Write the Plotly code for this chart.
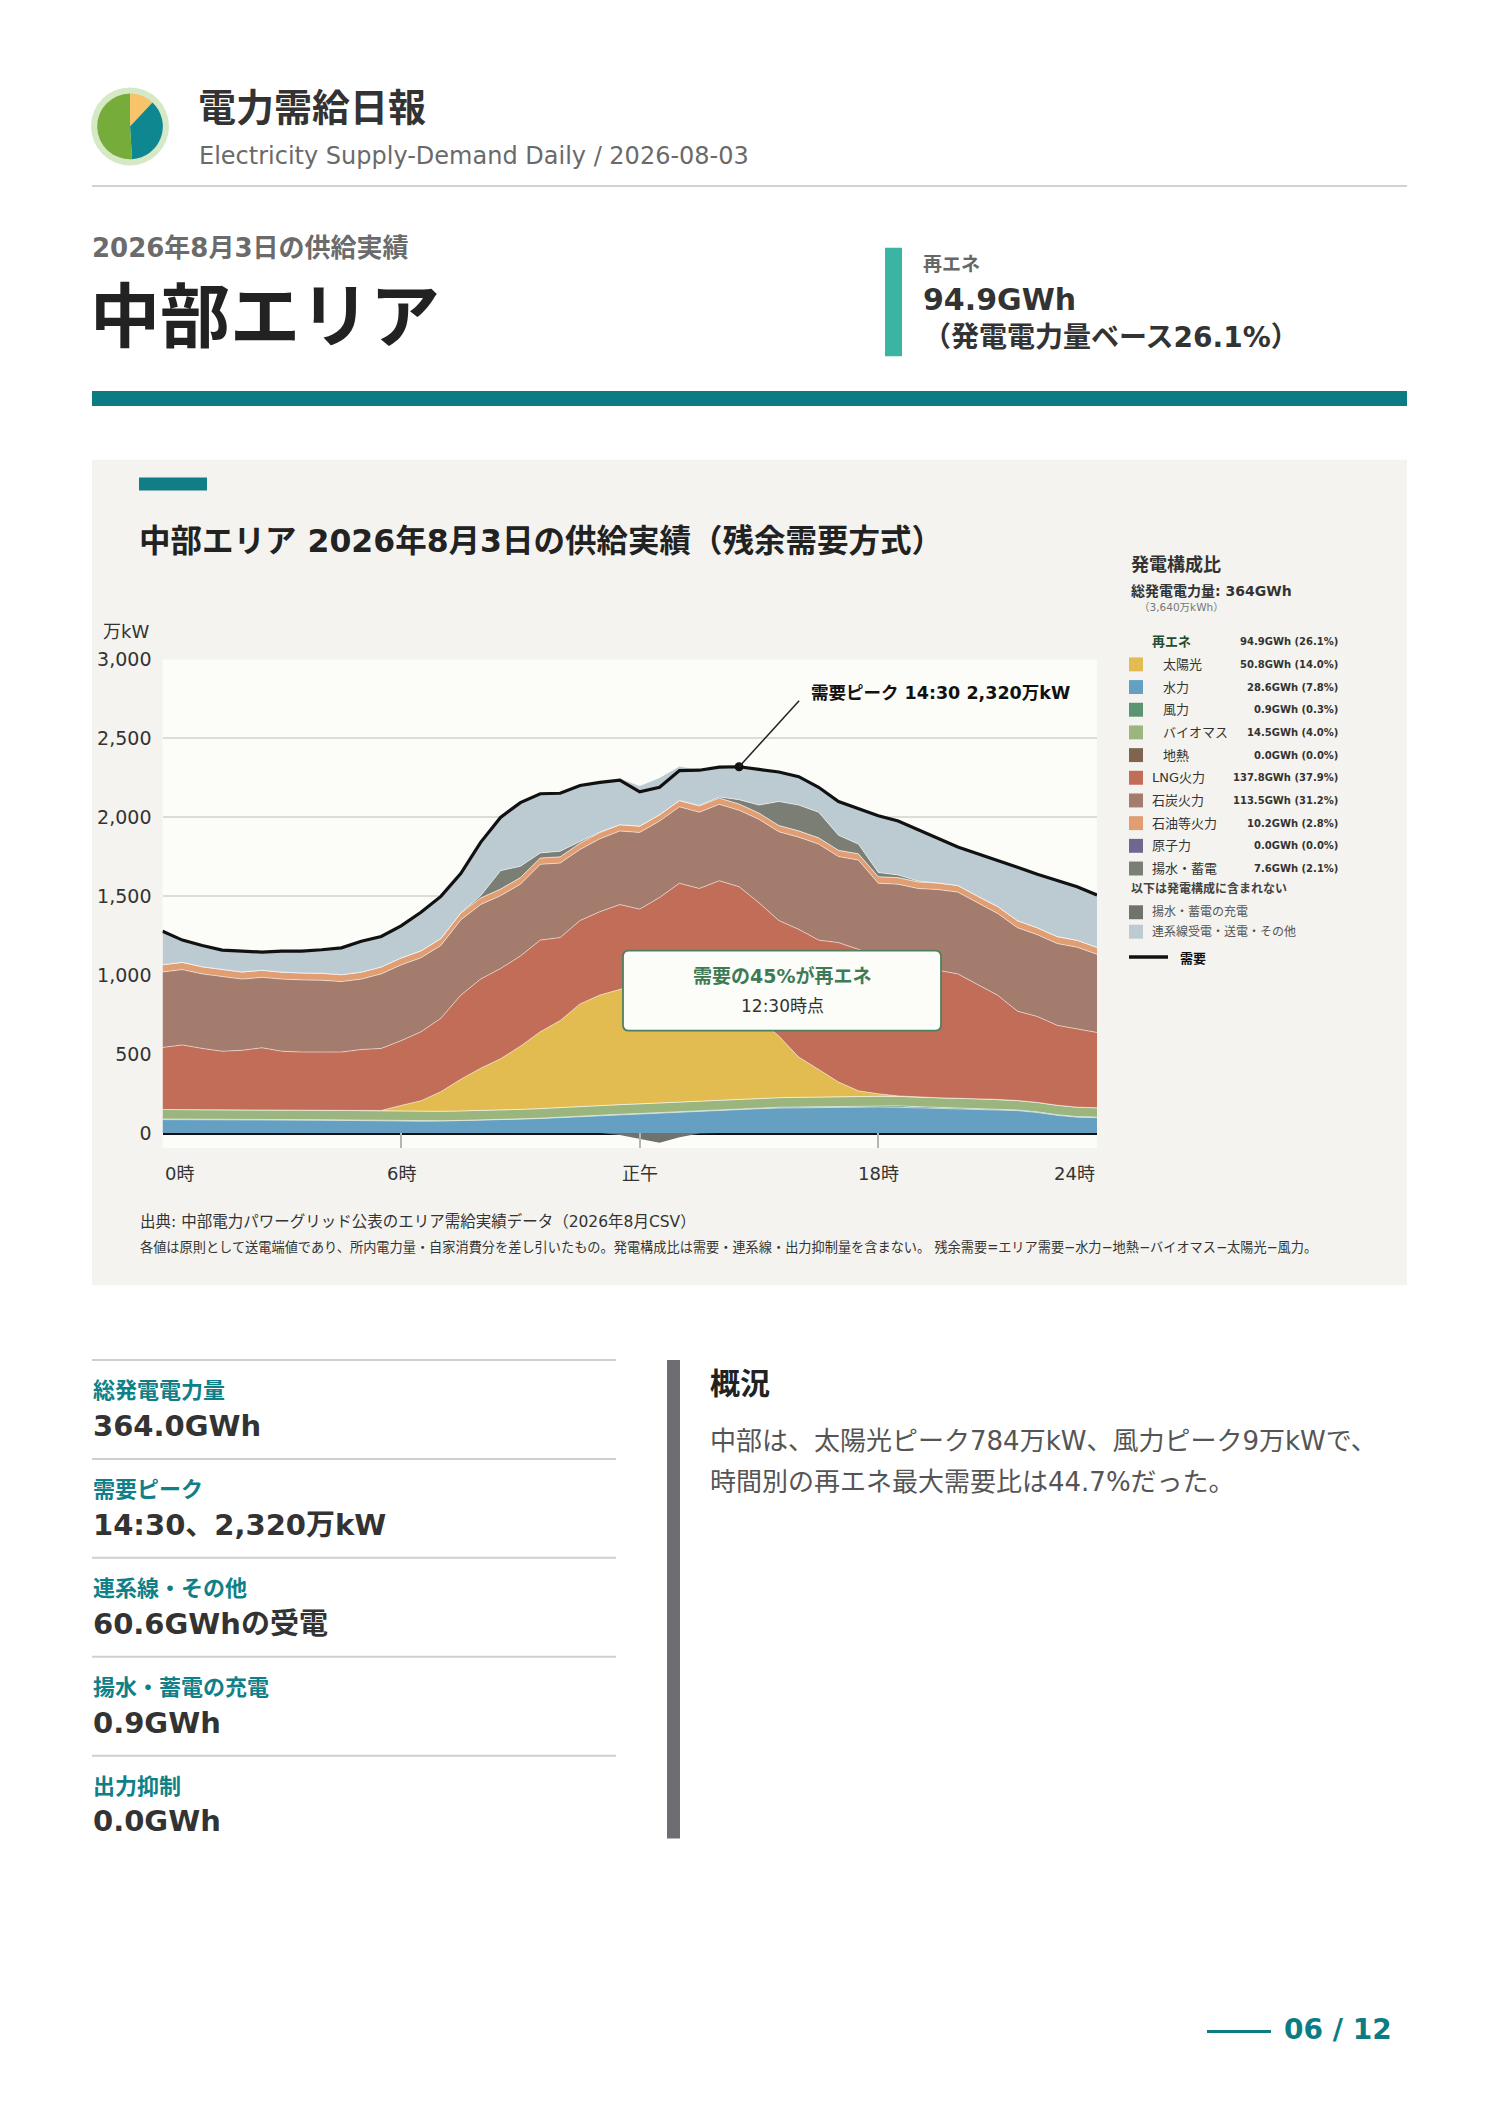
import plotly.graph_objects as go

W_PAGE, H_PAGE = 1488, 2105
FONT = "DejaVu Sans, Noto Sans CJK JP"

# ---- 30-minute data, 0:00 .. 23:30 (万kW) ----
hours = [i * 0.5 for i in range(48)]
time_labels = [f"{int(h):d}:{'30' if h % 1 else '00'}" for h in hours]

demand = [1278, 1222, 1188, 1159, 1152, 1146, 1152, 1152, 1161, 1173,
          1215, 1245, 1312, 1398, 1499, 1643, 1841, 1999, 2093, 2149,
          2152, 2201, 2221, 2235, 2161, 2190, 2296, 2298, 2318, 2320,
          2303, 2287, 2257, 2190, 2100, 2055, 2010, 1976, 1920, 1864,
          1812, 1769, 1729, 1684, 1639, 1598, 1560, 1508]
hydro = [85, 85, 84, 84, 83, 83, 82, 82, 81, 80, 78, 76, 75, 75, 76, 78,
         80, 84, 88, 92, 98, 104, 110, 116, 120, 126, 132, 138, 144, 150, 154, 158,
         160, 162, 164, 165, 165, 163, 160, 158, 155, 152, 148, 142, 130, 112, 100, 97]
wind = [4, 4, 4, 3, 3, 3, 3, 3, 3, 3, 3, 2, 2, 2, 2, 2,
        2, 2, 2, 2, 3, 3, 3, 3, 4, 4, 4, 4, 5, 5, 5, 5,
        5, 5, 6, 6, 8, 9, 7, 5, 5, 5, 5, 4, 4, 4, 4, 4]
biomass = [60, 60, 60, 60, 60, 60, 60, 60, 60, 60, 60, 60, 60, 60, 60, 60,
           60, 60, 60, 61, 61, 61, 61, 61, 61, 61, 61, 61, 61, 61, 61, 61,
           61, 61, 61, 61, 60, 60, 60, 60, 60, 60, 60, 60, 60, 60, 60, 59]
geothermal = [0] * 48
solar = [0, 0, 0, 0, 0, 0, 0, 0, 0, 0, 0, 5, 38, 67, 124, 200,
         268, 324, 400, 486, 550, 650, 700, 730, 760, 784, 770, 740, 680, 600, 500, 390,
         255, 175, 92, 35, 15, 3, 0, 0, 0, 0, 0, 0, 0, 0, 0, 0]
lng = [393, 409, 388, 371, 378, 394, 373, 368, 369, 370, 388, 393, 410, 437, 465, 533,
       565, 572, 571, 581, 526, 528, 528, 537, 473, 517, 615, 606, 708, 744, 738, 732,
       809, 819, 883, 899, 873, 863, 838, 808, 788, 724, 660, 566, 544, 506, 495, 477]
coal = [478, 477, 472, 472, 451, 446, 457, 457, 455, 446, 446, 472, 480, 469, 461, 477,
        472, 461, 455, 480, 472, 450, 462, 466, 486, 484, 484, 483, 484, 484, 529, 562,
        584, 608, 545, 563, 461, 478, 484, 511, 518, 517, 518, 529, 518, 518, 518, 495]
oil = [46, 46, 45, 45, 45, 45, 44, 44, 44, 44, 44, 44, 44, 44, 44, 44,
       42, 42, 42, 40, 40, 40, 40, 40, 40, 40, 40, 40, 40, 40, 40, 40,
       40, 40, 40, 40, 42, 42, 42, 42, 42, 42, 44, 44, 44, 44, 44, 44]
nuclear = [0] * 48
pumped = [0, 0, 0, 0, 0, 0, 0, 0, 0, 0, 0, 0, 0, 0, 0, 0,
          14, 117, 71, 32, 35, 10, 3, 0, 0, 0, 0, 3, 7, 27, 50, 152,
          163, 162, 95, 61, 26, 16, 5, 0, 0, 0, 0, 0, 0, 0, 0, 0]
interconnect = [212, 141, 135, 124, 132, 115, 133, 138, 149, 170, 196, 193, 203, 244, 267, 249,
                338, 337, 404, 375, 367, 355, 314, 294, 255, 235, 217, 226, 189, 209, 226, 187,
                180, 158, 214, 225, 360, 342, 324, 280, 244, 269, 294, 339, 339, 354, 339, 332]
charge = [0] * 22 + [0, -12, -38, -61, -27, -3] + [0] * 20

# ---- legend / summary values ----
legend_labels = ["太陽光", "水力", "風力", "バイオマス", "地熱",
                 "LNG火力", "石炭火力", "石油等火力", "原子力", "揚水・蓄電"]
legend_gwh = [50.8, 28.6, 0.9, 14.5, 0.0, 137.8, 113.5, 10.2, 0.0, 7.6]
legend_pct = [14.0, 7.8, 0.3, 4.0, 0.0, 37.9, 31.2, 2.8, 0.0, 2.1]
legend_renew = [True, True, True, True, True, False, False, False, False, False]
renew_gwh, renew_pct = 94.9, 26.1
total_gwh = 364
extra_labels = ["揚水・蓄電の充電", "連系線受電・送電・その他"]

summary_labels = ["総発電電力量", "需要ピーク", "連系線・その他", "揚水・蓄電の充電", "出力抑制"]
summary_values = ["364.0GWh", "14:30、2,320万kW", "60.6GWhの受電", "0.9GWh", "0.0GWh"]

logo_shares = [12, 37, 51]
x_ticks = [0, 6, 12, 18, 23.5]
x_ticktext = ["0時", "6時", "正午", "18時", "24時"]

COL = {
    "太陽光": "#e2bc50", "水力": "#65a0c2", "風力": "#5b9470", "バイオマス": "#9ab57e",
    "地熱": "#7f6550", "LNG火力": "#c26d57", "石炭火力": "#a37c6e", "石油等火力": "#e29e73",
    "原子力": "#6f6891", "揚水・蓄電": "#7b7e74", "揚水・蓄電の充電": "#6f736b",
    "連系線受電・送電・その他": "#bccbd2",
}
TEAL = "#0b7c84"


def X(p):
    return p / W_PAGE


def Y(p):
    return 1 - p / H_PAGE


fig = go.Figure()

# stacked supply (bottom → top)
stack = [("水力", hydro), ("風力", wind), ("バイオマス", biomass), ("地熱", geothermal),
         ("太陽光", solar), ("LNG火力", lng), ("石炭火力", coal), ("石油等火力", oil),
         ("原子力", nuclear), ("揚水・蓄電", pumped), ("連系線受電・送電・その他", interconnect)]
for name, vals in stack:
    fig.add_trace(go.Scatter(
        x=hours, y=vals, name=name, stackgroup="supply", mode="lines",
        line=dict(width=0.8, color="rgba(255,255,255,0.65)"),
        fillcolor=COL[name], showlegend=False,
        customdata=time_labels,
        hovertemplate=name + " %{customdata}: %{y:,}万kW<extra></extra>",
    ))

fig.add_trace(go.Scatter(
    x=hours, y=charge, name="揚水・蓄電の充電", stackgroup="charge", mode="lines",
    line=dict(width=0), fillcolor=COL["揚水・蓄電の充電"], showlegend=False,
    hovertemplate="充電: %{y:,}万kW<extra></extra>",
))

fig.add_trace(go.Scatter(
    x=hours, y=demand, name="需要", mode="lines",
    line=dict(color="#111111", width=3.2), showlegend=False,
    customdata=time_labels,
    hovertemplate="需要 %{customdata}: %{y:,}万kW<extra></extra>",
))

peak_i = max(range(len(demand)), key=lambda i: demand[i])
peak_h, peak_v = hours[peak_i], demand[peak_i]
fig.add_trace(go.Scatter(
    x=[peak_h], y=[peak_v], mode="markers",
    marker=dict(color="#111111", size=9), showlegend=False, hoverinfo="skip",
))

# logo
fig.add_trace(go.Pie(
    values=logo_shares, sort=False, direction="clockwise", rotation=0,
    marker=dict(colors=["#f7c46c", "#0e8790", "#76ac3a"], line=dict(width=0)),
    textinfo="none", hoverinfo="skip", showlegend=False,
    domain=dict(x=[X(97), X(163)], y=[Y(149), Y(83)]),
))

shapes = []
ann = []


def rect(x0, y0, x1, y1, color, layer="below"):
    shapes.append(dict(type="rect", xref="paper", yref="paper", x0=X(x0), x1=X(x1),
                       y0=Y(y1), y1=Y(y0), fillcolor=color, line=dict(width=0), layer=layer))


def hline(x0, x1, y, color, width):
    shapes.append(dict(type="line", xref="paper", yref="paper", x0=X(x0), x1=X(x1),
                       y0=Y(y), y1=Y(y), line=dict(color=color, width=width), layer="below"))


def txt(x, y, text, size, color="#333333", bold=False, anchor="left", family=FONT):
    if bold:
        text = f"<b>{text}</b>"
    ann.append(dict(xref="paper", yref="paper", x=X(x), y=Y(y), text=text, showarrow=False,
                    xanchor=anchor, yanchor="middle",
                    font=dict(size=size, color=color, family=family)))


# header
shapes.append(dict(type="circle", xref="paper", yref="paper", xsizemode="pixel", ysizemode="pixel",
                   xanchor=X(130), yanchor=Y(116), x0=-39, x1=39, y0=-39, y1=39,
                   fillcolor="#d6e9c6", line=dict(width=0), layer="below"))
txt(196, 98, "電力需給日報", 38, "#333333", bold=True)
txt(197, 146, "Electricity Supply-Demand Daily / 2026-08-03", 24, "#6a6a6a")
hline(92, 1407, 176, "#d2d2d2", 2)
txt(90, 238, "2026年8月3日の供給実績", 26, "#6b6b6b", bold=True)
txt(88, 309, "中部エリア", 70, "#222222", bold=True)
rect(92, 382, 1407, 397, TEAL)

rect(885, 238, 902, 347, "#3ab5a4")
txt(921, 254, "再エネ", 19, "#666666", bold=True)
txt(921, 290, f"{renew_gwh}GWh", 30, "#333333", bold=True)
txt(921, 328, f"（発電電力量ベース{renew_pct}%）", 28, "#333333", bold=True)

# chart panel
rect(92, 451, 1407, 1281, "#f4f3ef")
rect(162.5, 651.8, 1097, 1143, "#fcfcf8")
rect(139, 469, 207, 482, "#117d86")
txt(137, 533, "中部エリア 2026年8月3日の供給実績（残余需要方式）", 31.5, "#222222", bold=True)
txt(101, 624, "万kW", 18, "#333333")

# x tick labels
for v, t in zip(x_ticks, x_ticktext):
    a = "left" if v == x_ticks[0] else ("right" if v == x_ticks[-1] else "center")
    ann.append(dict(xref="x", yref="paper", x=v, y=Y(1169), text=t, showarrow=False,
                    xanchor=a, yanchor="middle", font=dict(size=18, color="#333333", family=FONT)))

# peak callout
shapes.append(dict(type="line", xref="x", yref="y", xsizemode="pixel", ysizemode="pixel",
                   xanchor=peak_h, yanchor=peak_v, x0=0, x1=60, y0=0, y1=66,
                   line=dict(color="#222222", width=1.5), layer="above"))
ann.append(dict(xref="x", yref="y", x=peak_h, y=peak_v, xshift=70, yshift=74,
                text=f"<b>需要ピーク {time_labels[peak_i]} {peak_v:,}万kW</b>", showarrow=False,
                xanchor="left", yanchor="middle", font=dict(size=17.5, color="#111111", family=FONT)))

# renewable share box
xl, xr, yt, yb = X(623), X(941), Y(944.6), Y(1025)
rx, ry = 6 / W_PAGE, 6 / H_PAGE
path = (f"M {xl+rx},{yt} L {xr-rx},{yt} Q {xr},{yt} {xr},{yt-ry} L {xr},{yb+ry} "
        f"Q {xr},{yb} {xr-rx},{yb} L {xl+rx},{yb} Q {xl},{yb} {xl},{yb+ry} "
        f"L {xl},{yt-ry} Q {xl},{yt} {xl+rx},{yt} Z")
shapes.append(dict(type="path", xref="paper", yref="paper", path=path,
                   fillcolor="#fcfcf8", line=dict(color="#4f8062", width=1.8), layer="above"))
txt(782, 970, "需要の45%が再エネ", 19, "#3f7a56", bold=True, anchor="center")
txt(782, 1000, "12:30時点", 17, "#333333", anchor="center")

# source notes
txt(138, 1217, "出典: 中部電力パワーグリッド公表のエリア需給実績データ（2026年8月CSV）", 15.5, "#333333")
txt(138, 1243, "各値は原則として送電端値であり、所内電力量・自家消費分を差し引いたもの。"
    "発電構成比は需要・連系線・出力抑制量を含まない。 残余需要=エリア需要−水力−地熱−バイオマス−太陽光−風力。",
    13.2, "#333333")

# composition legend
txt(1129, 556, "発電構成比", 18, "#333333", bold=True)
txt(1129, 583, f"総発電電力量: {total_gwh}GWh", 14, "#333333", bold=True)
txt(1137, 599, f"（{total_gwh * 10:,}万kWh）", 10.5, "#777777")
row0, step = 634, 22.8
txt(1150, row0, "再エネ", 13, "#234d32", bold=True)
txt(1340, row0, f"{renew_gwh}GWh ({renew_pct}%)", 10, "#333333", bold=True, anchor="right")
for k, (lab, g, p, rn) in enumerate(zip(legend_labels, legend_gwh, legend_pct, legend_renew)):
    yy = row0 + step * (k + 1)
    rect(1129, yy - 7, 1143, yy + 7, COL[lab], layer="above")
    txt(1161 if rn else 1150, yy, lab, 13, "#333333")
    txt(1340, yy, f"{g:.1f}GWh ({p:.1f}%)", 10, "#333333", bold=True, anchor="right")
txt(1129, 882, "以下は発電構成に含まれない", 12, "#444444", bold=True)
for k, lab in enumerate(extra_labels):
    yy = 906 + 19.5 * k
    rect(1129, yy - 7, 1143, yy + 7, COL[lab], layer="above")
    txt(1150, yy, lab, 12, "#555555")
hline(1129, 1168, 951, "#111111", 3.5)
txt(1178, 952, "需要", 13, "#111111", bold=True)

# summary list
for k, (lab, val) in enumerate(zip(summary_labels, summary_values)):
    y0 = 1356 + 99.5 * k
    hline(92, 616, y0, "#cfcfcf", 2)
    txt(91, y0 + 31, lab, 22, "#0f8088", bold=True)
    txt(91, y0 + 66, val, 29, "#333333", bold=True)

rect(667, 1356, 680, 1837, "#6d6e72")
txt(708, 1380, "概況", 30, "#222222", bold=True)
txt(708, 1438, "中部は、太陽光ピーク784万kW、風力ピーク9万kWで、", 26, "#555555")
txt(708, 1479, "時間別の再エネ最大需要比は44.7%だった。", 26, "#555555")

# footer
hline(1207, 1271, 2031, TEAL, 3)
txt(1394, 2029, "06 / 12", 28, TEAL, bold=True, anchor="right")

fig.update_layout(
    width=W_PAGE, height=H_PAGE,
    margin=dict(l=0, r=0, t=0, b=0),
    paper_bgcolor="#ffffff", plot_bgcolor="rgba(0,0,0,0)",
    font=dict(family=FONT, color="#333333"),
    shapes=shapes, annotations=ann,
    hovermode="closest",
    xaxis=dict(domain=[X(162.5), X(1097)], range=[0, 23.5], showgrid=False,
               zeroline=False, showline=False, tickvals=x_ticks, showticklabels=False,
               ticks="inside", ticklen=15, tickcolor="#b5b5b5", tickwidth=1.5),
    yaxis=dict(domain=[Y(1143), Y(651.8)], range=[-95, 3000], tickvals=list(range(0, 3001, 500)),
               tickformat=",", gridcolor="#dcdcd8", gridwidth=1.5, showline=False,
               zeroline=True, zerolinecolor="#111111", zerolinewidth=2.5,
               tickfont=dict(size=19, color="#333333"), ticklabelstandoff=10),
)

# page margin off so the figure sits at the window's top-left corner
fig.write_html("out.html", config={"displayModeBar": False},
               post_script="document.body.style.margin='0px';")
